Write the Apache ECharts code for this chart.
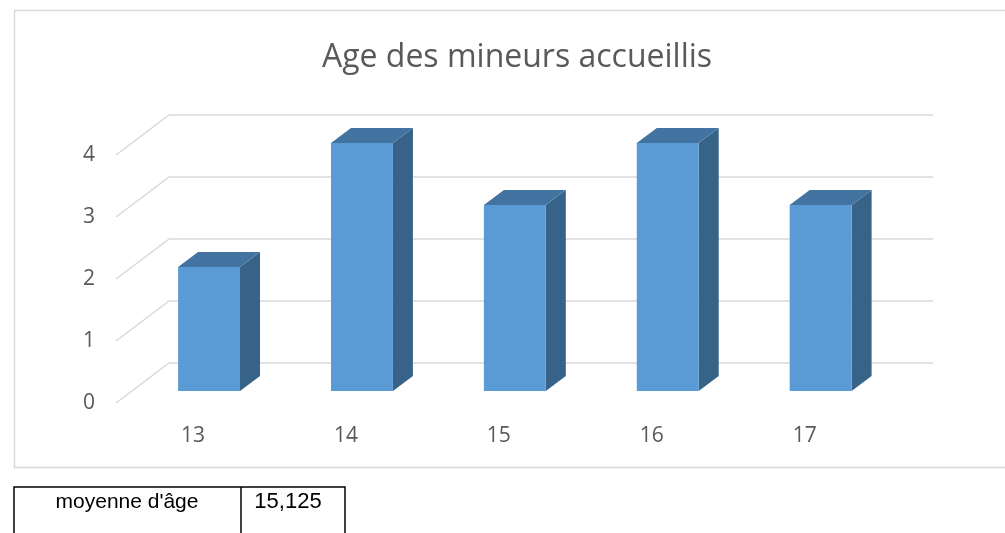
<!DOCTYPE html>
<html>
<head>
<meta charset="utf-8">
<script src="https://cdn.jsdelivr.net/npm/echarts@6/dist/echarts.min.js"></script>
<style>
  html, body { margin: 0; padding: 0; background: #fff; }
  #chart { width: 1005px; height: 533px; }
</style>
</head>
<body>
<div id="chart"></div>
<script>
const titleText = "Age des mineurs accueillis"
const categories = ["13", "14", "15", "16", "17"]
const counts = [2, 4, 3, 4, 3]
const yTicks = [0, 1, 2, 3, 4]
const tableLabel = "moyenne d'âge"
const tableValue = "15,125"

const FONT = "Open Sans"
const GREY = "#595959"
// depth of the 3D box (pixels)
const DX = 20, DY = 15

const chart = echarts.init(document.getElementById("chart"), null, { renderer: "canvas" })

const renderBar = (params, api) => {
    const idx = api.value(0)
    const top = api.coord([idx, api.value(1)])
    const base = api.coord([idx, 0])
    const w = api.size([1, 0])[0] * 0.405
    const x0 = top[0] - w / 2
    const x1 = x0 + w
    const yt = top[1], yb = base[1]
    return {
        type: "group",
        children: [
            {
                type: "polygon",
                shape: { points: [[x1, yt], [x1 + DX, yt - DY], [x1 + DX, yb - DY], [x1, yb]] },
                style: { fill: "#386389" }
            },
            {
                type: "polygon",
                shape: { points: [[x0, yt], [x1, yt], [x1 + DX, yt - DY], [x0 + DX, yt - DY]] },
                style: { fill: "#4374A1" }
            },
            {
                type: "rect",
                shape: { x: x0, y: yt, width: w, height: yb - yt },
                style: { fill: "#5B9BD5" }
            }
        ]
    }
}

const renderDiagonal = (params, api) => {
    const p0 = api.coord([0, api.value(0)])
    const p1 = api.coord([1, api.value(0)])
    return {
        type: "line",
        shape: { x1: p0[0], y1: p0[1], x2: p1[0], y2: p0[1] - 40 },
        style: { stroke: "#d9d9d9", lineWidth: 1.5 }
    }
}

const option = {
    backgroundColor: "#fff",
    animation: false,
    title: {
        text: titleText,
        left: 512,
        top: 37,
        textAlign: "center",
        textStyle: { fontFamily: FONT, fontSize: 32, fontWeight: "normal", color: GREY }
    },
    grid: [
        // front plane of the bars
        { left: 132.6, right: 107.9, top: 143, bottom: 142 },
        // back wall
        { left: 169, right: 72, top: 115, bottom: 170 },
        // front-left edge (value labels)
        { left: 116, right: 836, top: 155, bottom: 130 }
    ],
    xAxis: [
        {
            gridIndex: 0,
            type: "category",
            data: categories,
            axisLine: { show: false },
            axisTick: { show: false },
            axisLabel: {
                color: GREY, fontFamily: FONT, fontSize: 21,
                margin: 35, padding: [0, 32, 0, 0]
            }
        },
        { gridIndex: 1, type: "value", show: false, min: 0, max: 1 },
        { gridIndex: 2, type: "value", show: false, min: 0, max: 1 }
    ],
    yAxis: [
        { gridIndex: 0, type: "value", min: 0, max: 4, interval: 1, show: false },
        {
            gridIndex: 1, type: "value", min: 0, max: 4, interval: 1,
            axisLine: { show: false }, axisTick: { show: false }, axisLabel: { show: false },
            splitLine: { lineStyle: { color: "#d9d9d9", width: 1.5 } }
        },
        {
            gridIndex: 2, type: "value", min: 0, max: 4, interval: 1,
            axisLine: { show: false }, axisTick: { show: false },
            splitLine: { show: false },
            axisLabel: { color: GREY, fontFamily: FONT, fontSize: 21, margin: 21, padding: [3, 0, 0, 0] }
        }
    ],
    series: [
        {
            type: "custom",
            xAxisIndex: 2,
            yAxisIndex: 2,
            data: yTicks.map(v => [v]),
            encode: { y: 0 },
            renderItem: renderDiagonal,
            silent: true
        },
        {
            type: "custom",
            xAxisIndex: 0,
            yAxisIndex: 0,
            data: counts.map((v, i) => [i, v]),
            encode: { x: 0, y: 1 },
            renderItem: renderBar,
            z: 5
        }
    ],
    graphic: [
        {
            type: "rect",
            shape: { x: 14.5, y: 10.5, width: 1000, height: 457 },
            style: { fill: "none", stroke: "#d9d9d9", lineWidth: 1.5 },
            silent: true
        },
        {
            type: "rect",
            shape: { x: 14, y: 487, width: 331, height: 60 },
            style: { fill: "none", stroke: "#000", lineWidth: 1.5 }
        },
        {
            type: "line",
            shape: { x1: 241, y1: 487, x2: 241, y2: 540 },
            style: { stroke: "#000", lineWidth: 1.5 }
        },
        {
            type: "text",
            x: 127, y: 502,
            style: {
                text: tableLabel, font: "21px 'Liberation Sans'", fill: "#000",
                align: "center", verticalAlign: "middle"
            }
        },
        {
            type: "text",
            x: 288, y: 502,
            style: {
                text: tableValue, font: "22px 'Liberation Sans'", fill: "#000",
                align: "center", verticalAlign: "middle"
            }
        }
    ]
}

chart.setOption(option)
</script>
</body>
</html>
